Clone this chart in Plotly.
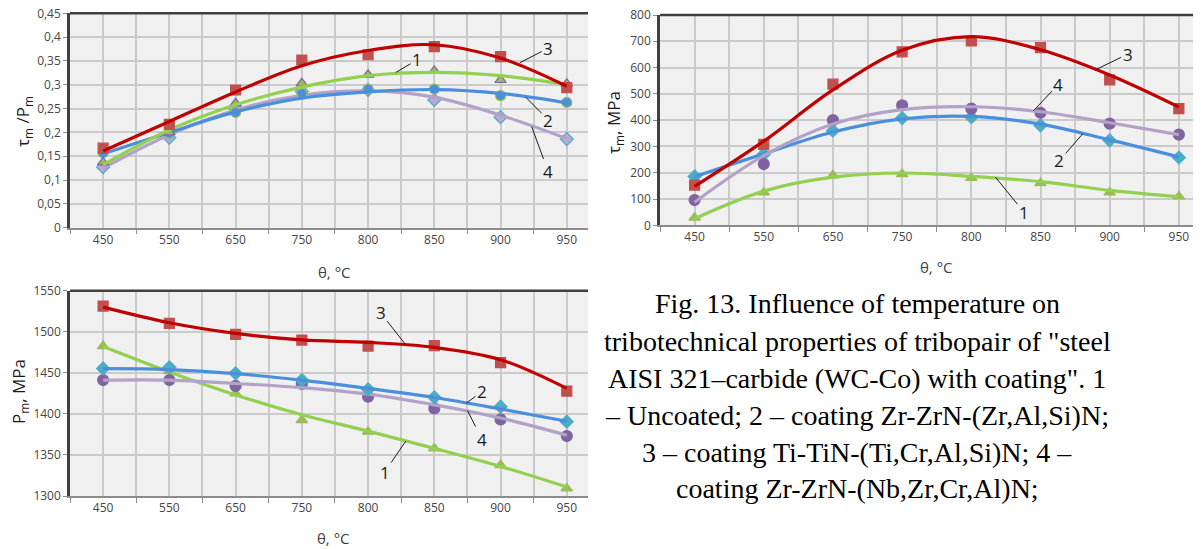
import plotly.graph_objects as go

W, H = 1201, 549
OFF = 8  # page body margin offset

# ---------------- data ----------------
temps = ["450", "550", "650", "750", "800", "850", "900", "950"]

# Panel A: tau_m / P_m
a1_pts = [0.137, 0.200, 0.261, 0.303, 0.321, 0.329, 0.310, 0.302]
a1_fit = [0.132, 0.205, 0.258, 0.295, 0.319, 0.326, 0.319, 0.300]
a2_pts = [0.157, 0.198, 0.242, 0.282, 0.291, 0.291, 0.277, 0.263]
a2_fit = [0.155, 0.200, 0.243, 0.272, 0.285, 0.290, 0.282, 0.262]
a3_pts = [0.167, 0.217, 0.289, 0.352, 0.363, 0.380, 0.359, 0.294]
a3_fit = [0.161, 0.223, 0.285, 0.340, 0.372, 0.384, 0.356, 0.297]
a4_pts = [0.127, 0.189, 0.250, 0.286, 0.289, 0.268, 0.232, 0.186]
a4_fit = [0.125, 0.195, 0.247, 0.278, 0.287, 0.274, 0.236, 0.187]
a_ticks = [0, 0.05, 0.1, 0.15, 0.2, 0.25, 0.3, 0.35, 0.4, 0.45]
a_ticktext = ["0", "0,05", "0,1", "0,15", "0,2", "0,25", "0,3", "0,35", "0,4", "0,45"]

# Panel B: tau_m, MPa
b1_pts = [29, 125, 190, 195, 180, 160, 125, 110]
b1_fit = [25, 130, 183, 199, 186, 166, 133, 109]
b2_pts = [186, 270, 360, 408, 411, 380, 323, 258]
b2_fit = [185, 272, 355, 405, 414, 385, 325, 260]
b3_pts = [153, 308, 537, 660, 701, 676, 553, 444]
b3_fit = [148, 320, 515, 666, 718, 668, 572, 450]
b4_pts = [96, 233, 400, 456, 444, 428, 387, 345]
b4_fit = [88, 265, 385, 440, 451, 432, 390, 345]
b_ticks = [0, 100, 200, 300, 400, 500, 600, 700, 800]

# Panel C: P_m, MPa
c1_pts = [1482.6, 1452, 1425, 1392.5, 1378.3, 1358, 1337.7, 1309.3]
c1_fit = [1482, 1451, 1423, 1399, 1379, 1358, 1336, 1311]
c2_pts = [1455.4, 1456.7, 1449.4, 1441.2, 1429.9, 1420.1, 1408.8, 1390.5]
c2_fit = [1455, 1454, 1449, 1441, 1431, 1420, 1406, 1391]
c3_pts = [1531.3, 1510.2, 1496.8, 1489.9, 1482.6, 1483, 1462.3, 1427.8]
c3_fit = [1530, 1511, 1498, 1490, 1487, 1481, 1466, 1431]
c4_pts = [1441.2, 1441.2, 1434, 1436.4, 1421, 1406.7, 1393.3, 1373]
c4_fit = [1441, 1441, 1437, 1432, 1424, 1411, 1395, 1374]
c_ticks = [1300, 1350, 1400, 1450, 1500, 1550]

caption_lines = [
    "Fig. 13. Influence of temperature on",
    "tribotechnical properties of tribopair of \"steel",
    "AISI 321\u2013carbide (WC-Co) with coating\". 1",
    "\u2013 Uncoated; 2 \u2013 coating Zr-ZrN-(Zr,Al,Si)N;",
    "3 \u2013 coating Ti-TiN-(Ti,Cr,Al,Si)N; 4 \u2013",
    "coating Zr-ZrN-(Nb,Zr,Cr,Al)N;",
]

# ---------------- styles ----------------
xi = list(range(len(temps)))
RED, GREEN, BLUE, LAV = "#c00000", "#92d050", "#4a8fdb", "#b3a2c7"
M_RED, M_GREEN, M_TEAL, M_PURP = "#c0504d", "#9bbb59", "#4bacc6", "#8064a2"
TICKFONT = dict(family="Open Sans", size=12, color="#454545")
GRID = "#cacaca"

fig = go.Figure()

def add_series(pts, fit, xa, ya, lcolor, symbol, mfill, mline, msize=10):
    fig.add_trace(go.Scatter(x=xi, y=pts, mode="markers", xaxis=xa, yaxis=ya,
                             marker=dict(symbol=symbol, size=msize, color=mfill,
                                         line=dict(color=mline, width=1.2)),
                             showlegend=False, hoverinfo="skip"))
    fig.add_trace(go.Scatter(x=xi, y=fit, mode="lines", xaxis=xa, yaxis=ya,
                             line=dict(color=lcolor, width=3.2, shape="spline", smoothing=1.0),
                             showlegend=False, hoverinfo="skip"))

# Panel A (top-left)
add_series(a4_pts, a4_fit, "x", "y", LAV, "diamond", "#b9a9d0", M_TEAL, 10)
add_series(a2_pts, a2_fit, "x", "y", BLUE, "circle", BLUE, M_GREEN, 10)
add_series(a1_pts, a1_fit, "x", "y", GREEN, "triangle-up", M_GREEN, M_PURP, 10)
add_series(a3_pts, a3_fit, "x", "y", RED, "square", M_RED, M_RED, 10)

# Panel B (top-right)
add_series(b1_pts, b1_fit, "x2", "y2", GREEN, "triangle-up", M_GREEN, M_GREEN, 10)
add_series(b2_pts, b2_fit, "x2", "y2", BLUE, "diamond", M_TEAL, M_TEAL, 10)
add_series(b4_pts, b4_fit, "x2", "y2", LAV, "circle", M_PURP, M_PURP, 11)
add_series(b3_pts, b3_fit, "x2", "y2", RED, "square", M_RED, M_RED, 10)

# Panel C (bottom-left)
add_series(c1_pts, c1_fit, "x3", "y3", GREEN, "triangle-up", M_GREEN, M_GREEN, 10)
add_series(c4_pts, c4_fit, "x3", "y3", LAV, "circle", M_PURP, M_PURP, 11)
add_series(c2_pts, c2_fit, "x3", "y3", BLUE, "diamond", M_TEAL, M_TEAL, 10)
add_series(c3_pts, c3_fit, "x3", "y3", RED, "square", M_RED, M_RED, 10)

def px_x(p):
    return min(1.0, (p - OFF) / W)

def px_y(p):
    return 1 - (p - OFF) / H

def xaxis_cfg(left, right, xmax):
    return dict(domain=[px_x(left), px_x(right)], range=[-0.5, xmax], automargin=False,
                tickmode="array", tickvals=xi, ticktext=temps, ticks="",
                showgrid=True, gridcolor=GRID, gridwidth=1.6,
                showline=True, linecolor="#8c8c8c", linewidth=1.5,
                tickfont=TICKFONT, zeroline=False, fixedrange=True,
                ticklabeloverflow="allow",
                minor=dict(tickmode="array", tickvals=[i + 0.5 for i in range(-1, len(temps))],
                           showgrid=True, gridcolor=GRID, gridwidth=1.6,
                           ticks="outside", ticklen=5, tickcolor="#8c8c8c", tickwidth=1))

def yaxis_cfg(top, bottom, rng, tickvals, ticktext, anchor):
    return dict(domain=[px_y(bottom), px_y(top)], range=rng, automargin=False,
                tickmode="array", tickvals=tickvals, ticktext=ticktext,
                showgrid=True, gridcolor=GRID, gridwidth=1.6,
                showline=True, linecolor="#404040", linewidth=2.5,
                ticks="outside", ticklen=4, tickcolor="#8c8c8c",
                ticklabeloverflow="allow",
                tickfont=TICKFONT, zeroline=False, anchor=anchor, fixedrange=True)

fig.update_layout(
    width=W, height=H, margin=dict(l=0, r=0, t=0, b=0, autoexpand=False),
    paper_bgcolor="white", plot_bgcolor="#f0f0f0", showlegend=False,
    xaxis=dict(**xaxis_cfg(70, 588, 7.32), anchor="y"),
    yaxis=yaxis_cfg(13.3, 227.7, [0, 0.45], a_ticks, a_ticktext, "x"),
    xaxis2=dict(**xaxis_cfg(660, 1201, 7.32), anchor="y2"),
    yaxis2=yaxis_cfg(15, 225.3, [0, 800], b_ticks, [str(v) for v in b_ticks], "x2"),
    xaxis3=dict(**xaxis_cfg(70, 588, 7.32), anchor="y3"),
    yaxis3=yaxis_cfg(290.7, 496, [1300, 1550], c_ticks, [str(v) for v in c_ticks], "x3"),
)

# top borders of plot areas
for xr, yr in [("x domain", "y domain"), ("x2 domain", "y2 domain"), ("x3 domain", "y3 domain")]:
    fig.add_shape(type="line", xref=xr, yref=yr, x0=0, x1=1, y0=1, y1=1,
                  line=dict(color="#404040", width=2.5))

anns = []
LBL = dict(family="Open Sans", size=17, color="#1a1a1a")

def leader(text, xa, ya, px, py, tx, ty):
    anns.append(dict(text=text, xref=xa, yref=ya, x=px, y=py, axref=xa, ayref=ya,
                     ax=tx, ay=ty, showarrow=True, arrowhead=0, arrowwidth=1,
                     arrowcolor="#1a1a1a", font=LBL, standoff=0, startstandoff=0))

# Panel A labels
leader("1", "x", "y", 4.42, 0.326, 4.74, 0.352)
leader("3", "x", "y", 6.29, 0.346, 6.72, 0.377)
leader("2", "x", "y", 6.38, 0.274, 6.72, 0.226)
leader("4", "x", "y", 6.47, 0.212, 6.72, 0.117)
# Panel B labels
leader("3", "x2", "y2", 5.79, 591, 6.26, 651)
leader("4", "x2", "y2", 4.90, 436, 5.26, 537)
leader("2", "x2", "y2", 5.61, 348, 5.27, 245)
leader("1", "x2", "y2", 4.35, 183, 4.76, 50)
# Panel C labels
leader("3", "x3", "y3", 4.57, 1484, 4.19, 1523)
leader("2", "x3", "y3", 5.48, 1413, 5.72, 1427)
leader("4", "x3", "y3", 5.50, 1404, 5.72, 1369)
leader("1", "x3", "y3", 4.57, 1367, 4.25, 1329)

TITLEFONT = dict(family="Open Sans", size=17, color="#1a1a1a")
XTFONT = dict(family="Open Sans", size=15, color="#404040")

def ptext(text, x, y, font, angle=0):
    anns.append(dict(text=text, xref="paper", yref="paper", x=px_x(x), y=px_y(y),
                     xanchor="center", yanchor="middle", textangle=angle,
                     showarrow=False, font=font))

# axis titles
ptext("\u03c4<sub>m</sub> /P<sub>m</sub>", 23, 122, TITLEFONT, -90)
ptext("\u03c4<sub>m</sub>, MPa", 615, 123, TITLEFONT, -90)
ptext("P<sub>m</sub>, MPa", 19, 392, TITLEFONT, -90)
ptext("\u03b8, \u00b0C", 335, 272, XTFONT)
ptext("\u03b8, \u00b0C", 937, 267, XTFONT)
ptext("\u03b8, \u00b0C", 333, 538, XTFONT)

# caption
cap_y = [303, 341, 378, 415, 452, 488]
CAPFONT = dict(family="Liberation Serif", size=28, color="black")
for line, yy in zip(caption_lines, cap_y):
    ptext(line, 857, yy, CAPFONT)

fig.update_layout(annotations=anns)
fig.write_html("out.html")
